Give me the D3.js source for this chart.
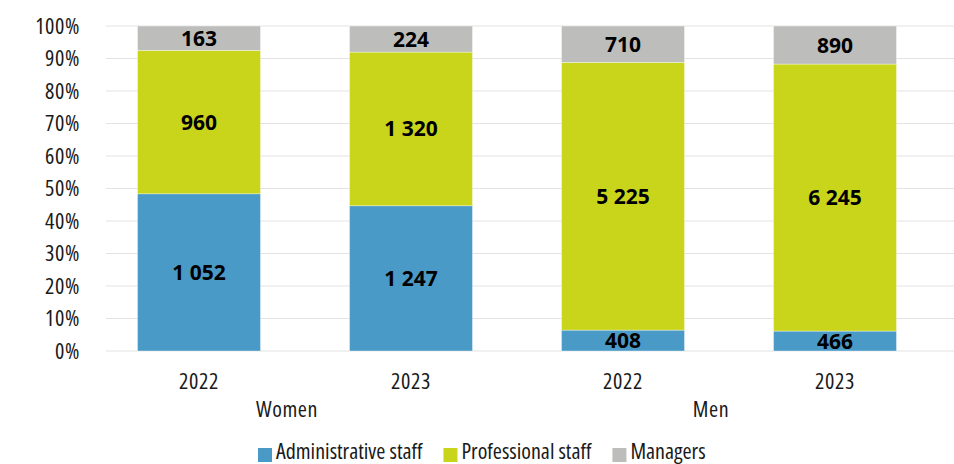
<!DOCTYPE html>
<html>
<head>
<meta charset="utf-8">
<script src="https://cdn.jsdelivr.net/npm/d3@7"></script>
<style>
  html, body { margin: 0; padding: 0; background: #fff; }
  svg { display: block; }
  text { font-family: "Open Sans", "DejaVu Sans Condensed", sans-serif; font-stretch: 75%; fill: #1a1a1a; }
  text.value { font-stretch: 90%; }
  text.spaced { letter-spacing: 0.6px; }
</style>
</head>
<body>
<svg id="chart" width="954" height="464"></svg>
<script>
// Staff headcount by category, gender and year
const groups = ["Women", "Women", "Men", "Men"];
const years = ["2022", "2023", "2022", "2023"];
const administrative = [1052, 1247, 408, 466];
const professional = [960, 1320, 5225, 6245];
const managers = [163, 224, 710, 890];
const seriesNames = ["Administrative staff", "Professional staff", "Managers"];
const seriesColors = ["#4a9ac7", "#c9d51a", "#bdbdbc"];
const yTicks = [0, 0.1, 0.2, 0.3, 0.4, 0.5, 0.6, 0.7, 0.8, 0.9, 1];

const W = 954, H = 464;
const svg = d3.select("#chart");

const rows = years.map((y, i) => ({
  key: groups[i] + " " + y, group: groups[i], year: y,
  a: administrative[i], p: professional[i], m: managers[i]
}));
const keys = ["a", "p", "m"];

const x = d3.scaleBand().domain(rows.map(d => d.key))
  .range([93, 941]).paddingInner(0.42).paddingOuter(0.21);
const y = d3.scaleLinear().domain([0, 1]).range([351, 26]);

const fmt = d3.formatLocale({ decimal: ".", thousands: " ", grouping: [3], currency: ["", ""] }).format(",d");

// Gridlines
svg.append("g").selectAll("line").data(yTicks).join("line")
  .attr("x1", 106).attr("x2", W)
  .attr("y1", d => y(d)).attr("y2", d => y(d))
  .attr("stroke", "#e3e3e3").attr("stroke-width", 1.2);

// Y tick labels
svg.append("g").selectAll("text").data(yTicks).join("text")
  .attr("class", "spaced")
  .attr("x", 80).attr("y", d => y(d)).attr("dy", "0.36em")
  .attr("text-anchor", "end").attr("font-size", 22)
  .text(d => d3.format(".0%")(d));

// Stacked percentage bars
const stack = d3.stack().keys(keys).offset(d3.stackOffsetExpand);
const layers = stack(rows);

const layerG = svg.append("g").selectAll("g").data(layers).join("g")
  .attr("fill", (d, i) => seriesColors[i]);

layerG.selectAll("rect").data(d => d).join("rect")
  .attr("x", d => x(d.data.key))
  .attr("width", x.bandwidth())
  .attr("y", d => y(d[1]))
  .attr("height", d => y(d[0]) - y(d[1]))
  .attr("stroke", "#ffffff").attr("stroke-width", 0.6).attr("stroke-opacity", 0.6);

// Value labels in each segment
layers.forEach((layer, li) => {
  svg.append("g").selectAll("text").data(layer).join("text")
    .attr("class", "value")
    .attr("x", d => x(d.data.key) + x.bandwidth() / 2)
    .attr("y", d => (y(d[0]) + y(d[1])) / 2)
    .attr("dy", "0.36em")
    .attr("text-anchor", "middle")
    .attr("font-size", 21).attr("font-weight", "bold")
    .style("fill", "#000")
    .text(d => fmt(d.data[layer.key]));
});

// Year labels
svg.append("g").selectAll("text").data(rows).join("text")
  .attr("class", "spaced")
  .attr("x", d => x(d.key) + x.bandwidth() / 2)
  .attr("y", 389)
  .attr("text-anchor", "middle").attr("font-size", 22)
  .text(d => d.year);

// Group labels
const groupNames = Array.from(new Set(groups));
svg.append("g").selectAll("text").data(groupNames).join("text")
  .attr("class", "spaced")
  .attr("x", g => {
    const ks = rows.filter(r => r.group === g).map(r => x(r.key) + x.bandwidth() / 2);
    return d3.mean(ks) - 18;
  })
  .attr("y", 417)
  .attr("text-anchor", "middle").attr("font-size", 22)
  .text(g => g);

// Legend
const legend = svg.append("g");
let lx = 258;
seriesNames.forEach((name, i) => {
  const g = legend.append("g").attr("transform", `translate(${lx},0)`);
  g.append("rect").attr("x", 0).attr("y", 448).attr("width", 14).attr("height", 14)
    .attr("fill", seriesColors[i]);
  const t = g.append("text").attr("x", 18).attr("y", 459)
    .attr("font-size", 22).text(name);
  const w = t.node().getComputedTextLength();
  lx += 18 + w + 21;
});
</script>
</body>
</html>
